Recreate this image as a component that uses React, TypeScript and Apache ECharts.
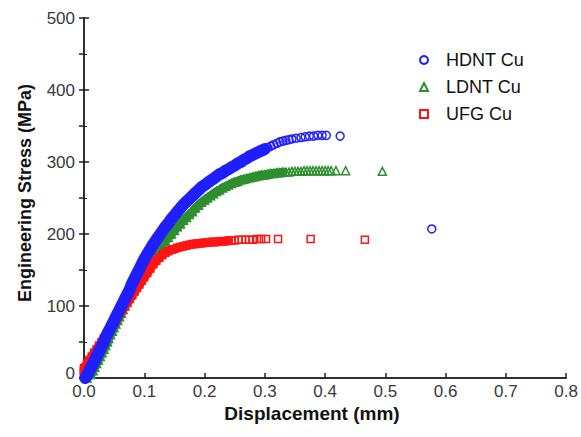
import React, { useEffect, useRef } from "react";
import * as echarts from "echarts";

// Displacement (mm) / Engineering stress (MPa)
const hdntPts: number[][] = [
  [0.002, 0], [0.006, 5], [0.009, 10], [0.012, 15], [0.015, 20], [0.018, 25], [0.021, 30], [0.024, 35],
  [0.027, 40], [0.030, 45], [0.033, 50], [0.035, 55], [0.038, 60], [0.041, 65], [0.044, 70], [0.047, 75],
  [0.050, 80], [0.053, 85], [0.056, 90], [0.059, 95], [0.062, 100], [0.065, 105], [0.068, 110], [0.071, 115],
  [0.074, 120], [0.077, 125], [0.079, 130], [0.082, 135], [0.085, 140], [0.088, 145], [0.091, 150], [0.094, 155],
  [0.097, 160], [0.100, 165],
  [0.105, 172], [0.110, 179], [0.115, 186], [0.120, 192], [0.125, 198], [0.130, 204], [0.135, 210], [0.140, 215],
  [0.145, 221], [0.150, 226], [0.155, 231], [0.160, 236], [0.165, 241], [0.170, 245], [0.175, 249], [0.180, 253],
  [0.185, 257], [0.190, 261], [0.195, 265], [0.200, 268], [0.205, 271], [0.210, 274], [0.215, 277], [0.220, 280],
  [0.225, 283], [0.230, 285], [0.235, 288], [0.240, 290], [0.245, 293], [0.250, 295], [0.255, 298], [0.260, 300],
  [0.265, 303], [0.270, 305], [0.275, 308], [0.280, 310], [0.285, 312], [0.290, 314], [0.295, 316], [0.300, 318],
  [0.305, 320], [0.310, 322], [0.315, 324], [0.320, 326], [0.325, 328], [0.330, 329], [0.335, 330], [0.340, 331],
  [0.345, 332], [0.352, 333], [0.360, 334], [0.367, 335], [0.374, 336], [0.381, 336], [0.388, 337], [0.395, 337],
  [0.402, 337], [0.425, 336], [0.577, 207],
];

const ldntPts: number[][] = [
  [0.005, 0], [0.012, 5], [0.015, 10], [0.018, 15], [0.021, 20], [0.024, 25], [0.027, 30], [0.030, 35],
  [0.033, 40], [0.036, 45], [0.039, 50], [0.041, 55], [0.044, 60], [0.047, 65], [0.050, 70], [0.053, 75],
  [0.056, 80], [0.059, 85], [0.062, 90], [0.065, 95], [0.068, 100], [0.071, 105], [0.074, 110], [0.077, 115],
  [0.080, 120], [0.083, 125], [0.085, 130], [0.088, 135], [0.091, 140], [0.094, 145], [0.097, 150],
  [0.100, 152], [0.105, 157], [0.110, 162], [0.115, 168], [0.120, 174], [0.125, 180], [0.130, 185], [0.135, 190],
  [0.140, 195], [0.145, 200], [0.150, 205], [0.155, 210], [0.160, 214], [0.165, 219], [0.170, 223], [0.175, 227],
  [0.180, 231], [0.185, 236], [0.190, 240], [0.195, 244], [0.200, 247], [0.205, 250], [0.210, 253], [0.215, 256],
  [0.220, 259], [0.225, 261], [0.230, 264], [0.235, 266], [0.240, 268], [0.245, 270], [0.250, 272], [0.255, 273],
  [0.260, 275], [0.265, 276], [0.270, 277], [0.275, 278], [0.280, 279], [0.285, 280], [0.290, 281], [0.295, 282],
  [0.300, 282], [0.305, 283], [0.310, 284], [0.315, 284], [0.320, 285], [0.325, 285], [0.330, 286], [0.335, 286],
  [0.340, 286], [0.345, 287], [0.350, 287], [0.355, 287], [0.360, 287], [0.365, 288], [0.370, 288], [0.375, 288],
  [0.380, 288], [0.385, 288], [0.390, 288], [0.395, 288], [0.400, 288], [0.405, 288], [0.410, 288], [0.418, 288],
  [0.434, 288], [0.495, 287],
];

const ufgPts: number[][] = [
  [0.000, 6], [0.000, 14], [0.005, 20], [0.009, 25], [0.013, 30], [0.017, 35], [0.021, 40], [0.025, 45],
  [0.029, 50], [0.033, 55], [0.037, 60], [0.040, 65], [0.044, 70], [0.048, 75], [0.052, 80], [0.056, 85],
  [0.060, 90], [0.064, 95], [0.068, 100], [0.072, 105], [0.076, 110], [0.080, 115], [0.084, 120], [0.088, 125],
  [0.092, 130], [0.096, 135], [0.100, 140],
  [0.105, 146], [0.110, 152], [0.115, 158], [0.120, 163], [0.125, 167], [0.130, 171], [0.135, 174], [0.140, 176],
  [0.145, 178], [0.150, 179], [0.155, 181], [0.160, 182], [0.165, 183], [0.170, 184], [0.175, 185], [0.180, 186],
  [0.185, 186], [0.190, 187], [0.195, 187], [0.200, 188], [0.205, 188], [0.210, 189], [0.215, 189], [0.220, 189],
  [0.225, 190], [0.230, 190], [0.235, 190], [0.240, 191], [0.245, 191], [0.250, 191], [0.256, 192], [0.262, 192],
  [0.268, 192], [0.274, 192], [0.280, 192], [0.287, 193], [0.294, 193], [0.302, 193], [0.322, 193], [0.376, 193],
  [0.466, 192],
];

// displacement up to which each record is so dense that its markers merge into a solid band
const denseUntil = { hdnt: 0.3, ldnt: 0.33, ufg: 0.24 };

const seriesNames = ["HDNT Cu", "LDNT Cu", "UFG Cu"];
const xTicks = [0, 0.8, 0.1];
const yTicks = [0, 500, 100];

const BLUE = "#1f1fff";
const GREEN = "#2f8f2f";
const RED = "#ff1414";
const FONT = "Arial, 'Liberation Sans', sans-serif";
const TICK_COLOR = "#3a3a3a";

export default function App() {
  const ref = useRef<HTMLDivElement>(null);
  useEffect(() => {
    document.body.style.margin = "0";
    const chart = echarts.init(ref.current!, null, { renderer: "svg" });
    const hollow = (c: string) => ({ color: "rgba(255,255,255,0)", borderColor: c, borderWidth: 1.5, opacity: 1 });
    const band = (name: string, pts: number[][], until: number, c: string, w: number, z: number) => ({
      name,
      type: "line",
      data: pts.filter((p) => p[0] <= until),
      symbol: "none",
      showSymbol: false,
      silent: true,
      lineStyle: { color: c, width: w, cap: "round", join: "round" },
      z,
    });
    chart.setOption({
      animation: false,
      backgroundColor: "#fff",
      grid: { left: 84, right: 8, top: 18, bottom: 59, show: false },
      legend: {
        data: seriesNames,
        orient: "vertical",
        left: 414,
        top: 46,
        itemWidth: 8,
        itemHeight: 8,
        itemGap: 9,
        textStyle: { fontFamily: FONT, fontSize: 18, color: "#111", padding: [0, 0, 0, 13] },
      },
      xAxis: [
        {
          type: "value",
          min: xTicks[0],
          max: xTicks[1],
          interval: xTicks[2],
          axisLine: { show: true, lineStyle: { color: "#222", width: 1.5 } },
          axisTick: { show: true, inside: true, length: 5, lineStyle: { color: "#222", width: 1.5 } },
          axisLabel: {
            formatter: (v: number) => v.toFixed(1),
            fontFamily: FONT,
            fontSize: 17,
            color: TICK_COLOR,
            margin: 5,
          },
          splitLine: { show: false },
        },
        {
          type: "value",
          position: "top",
          min: xTicks[0],
          max: xTicks[1],
          interval: xTicks[2],
          axisLine: { show: true, lineStyle: { color: "#222", width: 1.5 } },
          axisTick: { show: false },
          axisLabel: { show: false },
          splitLine: { show: false },
        },
      ],
      yAxis: [
        {
          type: "value",
          min: yTicks[0],
          max: yTicks[1],
          interval: yTicks[2],
          axisLine: { show: true, lineStyle: { color: "#222", width: 1.5 } },
          axisTick: { show: true, inside: true, length: 5, lineStyle: { color: "#222", width: 1.5 } },
          minorTick: { show: true, splitNumber: 2, length: 3, lineStyle: { color: "#222", width: 1 } },
          axisLabel: {
            fontFamily: FONT,
            fontSize: 17,
            color: TICK_COLOR,
            margin: 9,
            formatter: (v: number) => (v === 0 ? "{z|0}" : String(v)),
            rich: {
              z: { fontFamily: FONT, fontSize: 17, color: TICK_COLOR, padding: [0, 0, 9, 0] },
            },
          },
          splitLine: { show: false },
        },
        {
          type: "value",
          position: "right",
          min: yTicks[0],
          max: yTicks[1],
          interval: yTicks[2] / 2,
          axisLine: { show: true, lineStyle: { color: "#222", width: 1.5 } },
          axisTick: { show: true, inside: true, length: 5, lineStyle: { color: "#222", width: 1.5 } },
          axisLabel: { show: false },
          splitLine: { show: false },
        },
      ],
      graphic: [
        {
          type: "text",
          x: 25,
          y: 193,
          rotation: Math.PI / 2,
          style: {
            text: "Engineering Stress (MPa)",
            font: `bold 18px ${FONT}`,
            fill: "#111",
            align: "center",
            verticalAlign: "middle",
          },
        },
        {
          type: "text",
          x: 312,
          y: 413,
          style: {
            text: "Displacement (mm)",
            font: `bold 19px ${FONT}`,
            fill: "#111",
            align: "center",
            verticalAlign: "middle",
          },
        },
      ],
      series: [
        band("LDNT band", ldntPts, denseUntil.ldnt, GREEN, 9, 2),
        {
          name: seriesNames[1],
          type: "scatter",
          data: ldntPts,
          symbol: "triangle",
          symbolSize: 8,
          itemStyle: hollow(GREEN),
          z: 2,
        },
        band("UFG band", ufgPts, denseUntil.ufg, RED, 9, 3),
        {
          name: seriesNames[2],
          type: "scatter",
          data: ufgPts,
          symbol: "rect",
          symbolSize: 7,
          itemStyle: hollow(RED),
          z: 3,
        },
        band("HDNT band", hdntPts, denseUntil.hdnt, BLUE, 12, 4),
        {
          name: seriesNames[0],
          type: "scatter",
          data: hdntPts,
          symbol: "circle",
          symbolSize: 8,
          itemStyle: hollow(BLUE),
          z: 4,
        },
      ],
    });
    return () => chart.dispose();
  }, []);
  return <div ref={ref} style={{ position: "fixed", left: 0, top: 0, width: 581, height: 437 }} />;
}
